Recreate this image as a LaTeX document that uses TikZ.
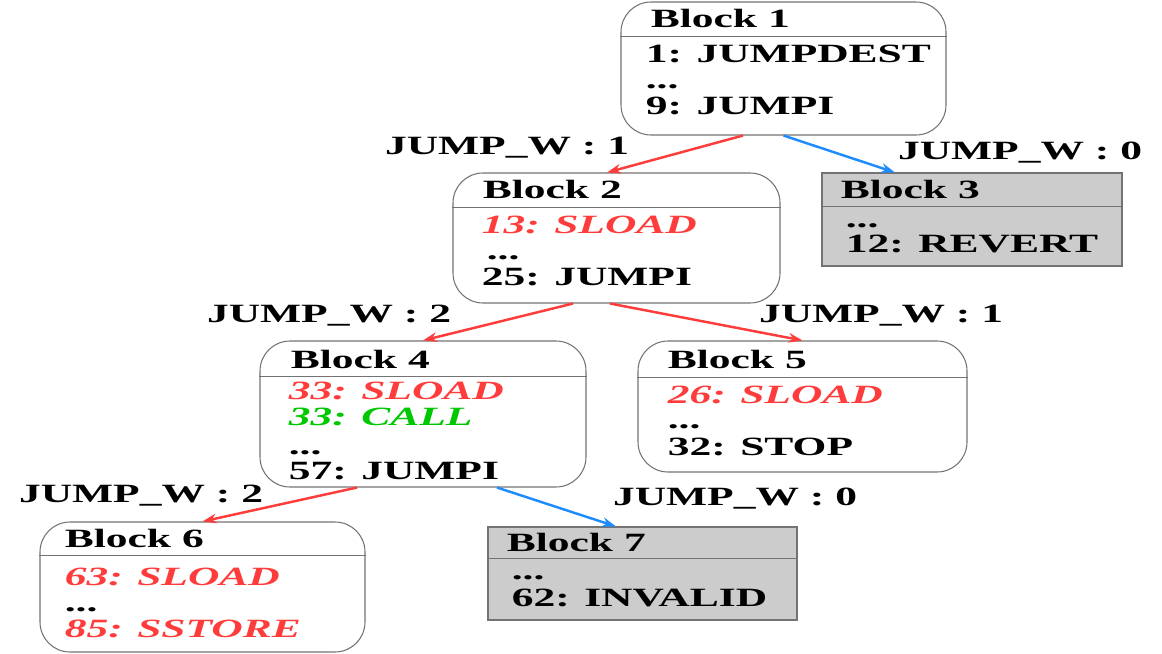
\documentclass[tikz,border=0pt]{standalone}
\usepackage{fontspec}
\setmainfont{Liberation Serif}[FakeStretch=1.65]
\usepackage{xcolor}
\usetikzlibrary{arrows.meta,positioning}
\definecolor{jred}{RGB}{255,60,60}
\definecolor{jblue}{RGB}{30,140,255}
\definecolor{jgreen}{RGB}{0,200,0}
\definecolor{jgray}{RGB}{204,204,204}

\begin{document}
\begin{tikzpicture}[
   every node/.style={font=\fontsize{15}{17}\selectfont\bfseries},
   blk/.style={draw=black!55,rectangle,rounded corners=0.6cm,line width=0.6pt,inner sep=0pt},
   dead/.style={draw=black!55,rectangle,fill=jgray,line width=0.6pt,inner sep=0pt},
   sep/.style={draw=black!55,line width=0.6pt},
   op/.style={anchor=base west,inner sep=0pt},
   hot/.style={op,text=jred,font=\fontsize{15}{17}\selectfont\bfseries\itshape},
   ext/.style={op,text=jgreen,font=\fontsize{15}{17}\selectfont\bfseries\itshape},
   lbl/.style={inner sep=0pt},
   jflow/.style={line width=1.4pt,-{Stealth[length=8pt,width=5.5pt]}}
]
\useasboundingbox (0,0) rectangle (23.24,-13.08);

% Block 1
\node[blk,minimum width=6.5cm,minimum height=2.66cm] (B1) at (15.67,-1.37) {};
\draw[sep] ([yshift=-0.7cm]B1.north west) -- ([yshift=-0.7cm]B1.north east);
\node[op] (B1h) at ([xshift=0.6cm,yshift=-0.52cm]B1.north west) {Block 1};
\node[op] (B1a) at ([xshift=0.5cm,yshift=-1.22cm]B1.north west) {1: JUMPDEST};
\node[op] (B1b) at ([yshift=-0.52cm]B1a.base west) {...};
\node[op] (B1c) at ([yshift=-0.52cm]B1b.base west) {9: JUMPI};

% Block 2
\node[blk,minimum width=6.54cm,minimum height=2.6cm] (B2) at (12.33,-4.76) {};
\draw[sep] ([yshift=-0.7cm]B2.north west) -- ([yshift=-0.7cm]B2.north east);
\node[op] (B2h) at ([xshift=0.6cm,yshift=-0.52cm]B2.north west) {Block 2};
\node[hot] (B2a) at ([xshift=0.58cm,yshift=-1.22cm]B2.north west) {13: SLOAD};
\node[op] (B2b) at ([xshift=0.1cm,yshift=-0.52cm]B2a.base west) {...};
\node[op] (B2c) at ([yshift=-0.52cm]B2a.base west |- B2b.base) {25: JUMPI};

% Block 3
\node[dead,minimum width=6.0cm,minimum height=1.86cm] (B3) at (19.44,-4.39) {};
\draw[sep] ([yshift=-0.68cm]B3.north west) -- ([yshift=-0.68cm]B3.north east);
\node[op] (B3h) at ([xshift=0.38cm,yshift=-0.52cm]B3.north west) {Block 3};
\node[op] (B3a) at ([xshift=0.48cm,yshift=-1.1cm]B3.north west) {...};
\node[op] (B3b) at ([yshift=-0.5cm]B3a.base west) {12: REVERT};

% Block 4
\node[blk,minimum width=6.52cm,minimum height=2.92cm] (B4) at (8.46,-8.28) {};
\draw[sep] ([yshift=-0.72cm]B4.north west) -- ([yshift=-0.72cm]B4.north east);
\node[op] (B4h) at ([xshift=0.62cm,yshift=-0.56cm]B4.north west) {Block 4};
\node[hot] (B4a) at ([xshift=0.58cm,yshift=-1.18cm]B4.north west) {33: SLOAD};
\node[ext] (B4b) at ([yshift=-0.52cm]B4a.base west) {33: CALL};
\node[op] (B4c) at ([yshift=-0.58cm]B4b.base west) {...};
\node[op] (B4d) at ([yshift=-0.5cm]B4c.base west) {57: JUMPI};

% Block 5
\node[blk,minimum width=6.58cm,minimum height=2.62cm] (B5) at (16.05,-8.13) {};
\draw[sep] ([yshift=-0.74cm]B5.north west) -- ([yshift=-0.74cm]B5.north east);
\node[op] (B5h) at ([xshift=0.6cm,yshift=-0.56cm]B5.north west) {Block 5};
\node[hot] (B5a) at ([xshift=0.6cm,yshift=-1.26cm]B5.north west) {26: SLOAD};
\node[op] (B5b) at ([yshift=-0.5cm]B5a.base west) {...};
\node[op] (B5c) at ([yshift=-0.54cm]B5b.base west) {32: STOP};

% Block 6
\node[blk,minimum width=6.5cm,minimum height=2.6cm] (B6) at (4.05,-11.74) {};
\draw[sep] ([yshift=-0.68cm]B6.north west) -- ([yshift=-0.68cm]B6.north east);
\node[op] (B6h) at ([xshift=0.5cm,yshift=-0.52cm]B6.north west) {Block 6};
\node[hot] (B6a) at ([xshift=0.5cm,yshift=-1.28cm]B6.north west) {63: SLOAD};
\node[op] (B6b) at ([yshift=-0.52cm]B6a.base west) {...};
\node[hot] (B6c) at ([yshift=-0.52cm]B6b.base west) {85: SSTORE};

% Block 7
\node[dead,minimum width=6.18cm,minimum height=1.86cm] (B7) at (12.85,-11.47) {};
\draw[sep] ([yshift=-0.64cm]B7.north west) -- ([yshift=-0.64cm]B7.north east);
\node[op] (B7h) at ([xshift=0.38cm,yshift=-0.5cm]B7.north west) {Block 7};
\node[op] (B7a) at ([xshift=0.48cm,yshift=-1.06cm]B7.north west) {...};
\node[op] (B7b) at ([yshift=-0.54cm]B7a.base west) {62: INVALID};

% Edges
\draw[jflow,jred] ([xshift=-0.81cm]B1.south) -- ([xshift=-0.19cm]B2.north);
\draw[jflow,jblue] (B1.south) -- ([xshift=-1.54cm]B3.north);
\draw[jflow,jred] ([xshift=-0.87cm]B2.south) -- (B4.north);
\draw[jflow,jred] ([xshift=-0.13cm]B2.south) -- (B5.north);
\draw[jflow,jred] ([xshift=-1.32cm]B4.south) -- (B6.north);
\draw[jflow,jblue] ([xshift=1.48cm]B4.south) -- ([xshift=-0.53cm]B7.north);

% Edge labels
\node[lbl] (L12) at (10.14,-2.96) {JUMP\_W : 1};
\node[lbl] (L13) at (20.4,-3.06) {JUMP\_W : 0};
\node[lbl] (L24) at (6.58,-6.32) {JUMP\_W : 2};
\node[lbl] (L25) at (17.62,-6.32) {JUMP\_W : 1};
\node[lbl] (L46) at (2.82,-9.92) {JUMP\_W : 2};
\node[lbl] (L47) at (14.7,-9.98) {JUMP\_W : 0};

\end{tikzpicture}
\end{document}
